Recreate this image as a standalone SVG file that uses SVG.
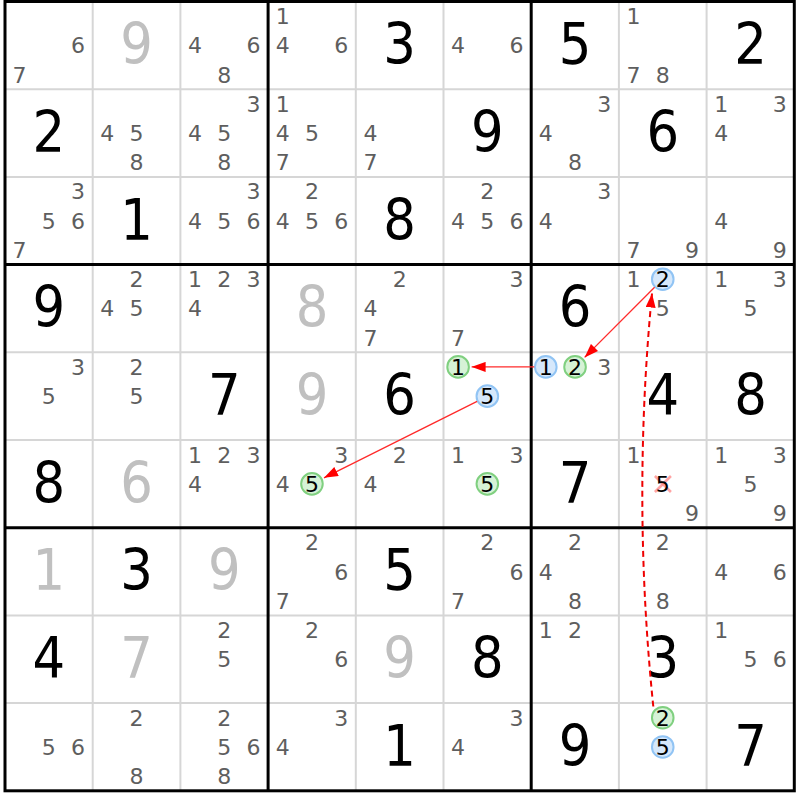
<svg xmlns="http://www.w3.org/2000/svg" width="800" height="800" viewBox="0 0 800 800">
<style>
text{font-family:"DejaVu Sans",sans-serif;text-anchor:middle}
.c{font-size:22px;fill:#5e5e5e}
.h{font-size:22px;fill:#000}
.b{font-size:57px;fill:#000;font-family:"DejaVu Sans Condensed","DejaVu Sans",sans-serif}
.g{font-size:57px;fill:#c0c0c0;font-family:"DejaVu Sans Condensed","DejaVu Sans",sans-serif}
.thin{stroke:#d6d6d6;stroke-width:2}
.thick{stroke:#000;stroke-width:3}
.blue{fill:#d6e8fb;stroke:#91c4f4;stroke-width:2}
.green{fill:#d6f2d6;stroke:#80d080;stroke-width:2}
.link{fill:none;stroke:#ff2b2b;stroke-width:1.3}
.weak{fill:none;stroke:#ee0000;stroke-width:2;stroke-dasharray:6,4}
.elim{stroke:#ff8c8c;stroke-width:2.5;stroke-opacity:0.8}
</style>
<defs>
<marker id="ah" markerUnits="userSpaceOnUse" markerWidth="14" markerHeight="10" viewBox="0 0 14 10" refX="14" refY="5" orient="auto">
<path d="M0,0 L14,5 L0,10 Z" fill="#ff0000"/>
</marker>
</defs>
<rect x="0" y="0" width="800" height="800" fill="#fff"/>
<g id="grid">
<g class="thin">
<line x1="92.7" y1="1.5" x2="92.7" y2="790.8"/>
<line x1="180.4" y1="1.5" x2="180.4" y2="790.8"/>
<line x1="355.8" y1="1.5" x2="355.8" y2="790.8"/>
<line x1="443.5" y1="1.5" x2="443.5" y2="790.8"/>
<line x1="618.9" y1="1.5" x2="618.9" y2="790.8"/>
<line x1="706.6" y1="1.5" x2="706.6" y2="790.8"/>
<line x1="5" y1="89.2" x2="794.3" y2="89.2"/>
<line x1="5" y1="176.9" x2="794.3" y2="176.9"/>
<line x1="5" y1="352.3" x2="794.3" y2="352.3"/>
<line x1="5" y1="440" x2="794.3" y2="440"/>
<line x1="5" y1="615.4" x2="794.3" y2="615.4"/>
<line x1="5" y1="703.1" x2="794.3" y2="703.1"/>
</g>
<g class="thick">
<line x1="268.1" y1="1.5" x2="268.1" y2="790.8"/>
<line x1="531.2" y1="1.5" x2="531.2" y2="790.8"/>
<line x1="5" y1="264.6" x2="794.3" y2="264.6"/>
<line x1="5" y1="527.7" x2="794.3" y2="527.7"/>
<rect x="5" y="1.5" width="789.3" height="789.3" fill="none"/>
</g>
</g>
<!-- row 1 -->
<g id="r1c1" transform="translate(5,1.5)"><text class="c" x="73.1" y="51.85">6</text><text class="c" x="14.6" y="81.1">7</text></g>
<g id="r1c2" transform="translate(92.7,1.5)"><text class="g" x="43.85" y="62.8">9</text></g>
<g id="r1c3" transform="translate(180.4,1.5)"><text class="c" x="14.6" y="51.85">4</text><text class="c" x="73.1" y="51.85">6</text><text class="c" x="43.85" y="81.1">8</text></g>
<g id="r1c4" transform="translate(268.1,1.5)"><text class="c" x="14.6" y="22.6">1</text><text class="c" x="14.6" y="51.85">4</text><text class="c" x="73.1" y="51.85">6</text></g>
<g id="r1c5" transform="translate(355.8,1.5)"><text class="b" x="43.85" y="62.8">3</text></g>
<g id="r1c6" transform="translate(443.5,1.5)"><text class="c" x="14.6" y="51.85">4</text><text class="c" x="73.1" y="51.85">6</text></g>
<g id="r1c7" transform="translate(531.2,1.5)"><text class="b" x="43.85" y="62.8">5</text></g>
<g id="r1c8" transform="translate(618.9,1.5)"><text class="c" x="14.6" y="22.6">1</text><text class="c" x="14.6" y="81.1">7</text><text class="c" x="43.85" y="81.1">8</text></g>
<g id="r1c9" transform="translate(706.6,1.5)"><text class="b" x="43.85" y="62.8">2</text></g>
<!-- row 2 -->
<g id="r2c1" transform="translate(5,89.2)"><text class="b" x="43.85" y="62.8">2</text></g>
<g id="r2c2" transform="translate(92.7,89.2)"><text class="c" x="14.6" y="51.85">4</text><text class="c" x="43.85" y="51.85">5</text><text class="c" x="43.85" y="81.1">8</text></g>
<g id="r2c3" transform="translate(180.4,89.2)"><text class="c" x="73.1" y="22.6">3</text><text class="c" x="14.6" y="51.85">4</text><text class="c" x="43.85" y="51.85">5</text><text class="c" x="43.85" y="81.1">8</text></g>
<g id="r2c4" transform="translate(268.1,89.2)"><text class="c" x="14.6" y="22.6">1</text><text class="c" x="14.6" y="51.85">4</text><text class="c" x="43.85" y="51.85">5</text><text class="c" x="14.6" y="81.1">7</text></g>
<g id="r2c5" transform="translate(355.8,89.2)"><text class="c" x="14.6" y="51.85">4</text><text class="c" x="14.6" y="81.1">7</text></g>
<g id="r2c6" transform="translate(443.5,89.2)"><text class="b" x="43.85" y="62.8">9</text></g>
<g id="r2c7" transform="translate(531.2,89.2)"><text class="c" x="73.1" y="22.6">3</text><text class="c" x="14.6" y="51.85">4</text><text class="c" x="43.85" y="81.1">8</text></g>
<g id="r2c8" transform="translate(618.9,89.2)"><text class="b" x="43.85" y="62.8">6</text></g>
<g id="r2c9" transform="translate(706.6,89.2)"><text class="c" x="14.6" y="22.6">1</text><text class="c" x="73.1" y="22.6">3</text><text class="c" x="14.6" y="51.85">4</text></g>
<!-- row 3 -->
<g id="r3c1" transform="translate(5,176.9)"><text class="c" x="73.1" y="22.6">3</text><text class="c" x="43.85" y="51.85">5</text><text class="c" x="73.1" y="51.85">6</text><text class="c" x="14.6" y="81.1">7</text></g>
<g id="r3c2" transform="translate(92.7,176.9)"><text class="b" x="43.85" y="62.8">1</text></g>
<g id="r3c3" transform="translate(180.4,176.9)"><text class="c" x="73.1" y="22.6">3</text><text class="c" x="14.6" y="51.85">4</text><text class="c" x="43.85" y="51.85">5</text><text class="c" x="73.1" y="51.85">6</text></g>
<g id="r3c4" transform="translate(268.1,176.9)"><text class="c" x="43.85" y="22.6">2</text><text class="c" x="14.6" y="51.85">4</text><text class="c" x="43.85" y="51.85">5</text><text class="c" x="73.1" y="51.85">6</text></g>
<g id="r3c5" transform="translate(355.8,176.9)"><text class="b" x="43.85" y="62.8">8</text></g>
<g id="r3c6" transform="translate(443.5,176.9)"><text class="c" x="43.85" y="22.6">2</text><text class="c" x="14.6" y="51.85">4</text><text class="c" x="43.85" y="51.85">5</text><text class="c" x="73.1" y="51.85">6</text></g>
<g id="r3c7" transform="translate(531.2,176.9)"><text class="c" x="73.1" y="22.6">3</text><text class="c" x="14.6" y="51.85">4</text></g>
<g id="r3c8" transform="translate(618.9,176.9)"><text class="c" x="14.6" y="81.1">7</text><text class="c" x="73.1" y="81.1">9</text></g>
<g id="r3c9" transform="translate(706.6,176.9)"><text class="c" x="14.6" y="51.85">4</text><text class="c" x="73.1" y="81.1">9</text></g>
<!-- row 4 -->
<g id="r4c1" transform="translate(5,264.6)"><text class="b" x="43.85" y="62.8">9</text></g>
<g id="r4c2" transform="translate(92.7,264.6)"><text class="c" x="43.85" y="22.6">2</text><text class="c" x="14.6" y="51.85">4</text><text class="c" x="43.85" y="51.85">5</text></g>
<g id="r4c3" transform="translate(180.4,264.6)"><text class="c" x="14.6" y="22.6">1</text><text class="c" x="43.85" y="22.6">2</text><text class="c" x="73.1" y="22.6">3</text><text class="c" x="14.6" y="51.85">4</text></g>
<g id="r4c4" transform="translate(268.1,264.6)"><text class="g" x="43.85" y="62.8">8</text></g>
<g id="r4c5" transform="translate(355.8,264.6)"><text class="c" x="43.85" y="22.6">2</text><text class="c" x="14.6" y="51.85">4</text><text class="c" x="14.6" y="81.1">7</text></g>
<g id="r4c6" transform="translate(443.5,264.6)"><text class="c" x="73.1" y="22.6">3</text><text class="c" x="14.6" y="81.1">7</text></g>
<g id="r4c7" transform="translate(531.2,264.6)"><text class="b" x="43.85" y="62.8">6</text></g>
<g id="r4c8" transform="translate(618.9,264.6)"><text class="c" x="14.6" y="22.6">1</text><circle class="blue" cx="43.85" cy="14.6" r="10.8"/><text class="h" x="43.85" y="22.6">2</text><text class="c" x="43.85" y="51.85">5</text></g>
<g id="r4c9" transform="translate(706.6,264.6)"><text class="c" x="14.6" y="22.6">1</text><text class="c" x="73.1" y="22.6">3</text><text class="c" x="43.85" y="51.85">5</text></g>
<!-- row 5 -->
<g id="r5c1" transform="translate(5,352.3)"><text class="c" x="73.1" y="22.6">3</text><text class="c" x="43.85" y="51.85">5</text></g>
<g id="r5c2" transform="translate(92.7,352.3)"><text class="c" x="43.85" y="22.6">2</text><text class="c" x="43.85" y="51.85">5</text></g>
<g id="r5c3" transform="translate(180.4,352.3)"><text class="b" x="43.85" y="62.8">7</text></g>
<g id="r5c4" transform="translate(268.1,352.3)"><text class="g" x="43.85" y="62.8">9</text></g>
<g id="r5c5" transform="translate(355.8,352.3)"><text class="b" x="43.85" y="62.8">6</text></g>
<g id="r5c6" transform="translate(443.5,352.3)"><circle class="green" cx="14.6" cy="14.6" r="10.8"/><text class="h" x="14.6" y="22.6">1</text><circle class="blue" cx="43.85" cy="43.85" r="10.8"/><text class="h" x="43.85" y="51.85">5</text></g>
<g id="r5c7" transform="translate(531.2,352.3)"><circle class="blue" cx="14.6" cy="14.6" r="10.8"/><text class="h" x="14.6" y="22.6">1</text><circle class="green" cx="43.85" cy="14.6" r="10.8"/><text class="h" x="43.85" y="22.6">2</text><text class="c" x="73.1" y="22.6">3</text></g>
<g id="r5c8" transform="translate(618.9,352.3)"><text class="b" x="43.85" y="62.8">4</text></g>
<g id="r5c9" transform="translate(706.6,352.3)"><text class="b" x="43.85" y="62.8">8</text></g>
<!-- row 6 -->
<g id="r6c1" transform="translate(5,440)"><text class="b" x="43.85" y="62.8">8</text></g>
<g id="r6c2" transform="translate(92.7,440)"><text class="g" x="43.85" y="62.8">6</text></g>
<g id="r6c3" transform="translate(180.4,440)"><text class="c" x="14.6" y="22.6">1</text><text class="c" x="43.85" y="22.6">2</text><text class="c" x="73.1" y="22.6">3</text><text class="c" x="14.6" y="51.85">4</text></g>
<g id="r6c4" transform="translate(268.1,440)"><text class="c" x="73.1" y="22.6">3</text><text class="c" x="14.6" y="51.85">4</text><circle class="green" cx="43.85" cy="43.85" r="10.8"/><text class="h" x="43.85" y="51.85">5</text></g>
<g id="r6c5" transform="translate(355.8,440)"><text class="c" x="43.85" y="22.6">2</text><text class="c" x="14.6" y="51.85">4</text></g>
<g id="r6c6" transform="translate(443.5,440)"><text class="c" x="14.6" y="22.6">1</text><text class="c" x="73.1" y="22.6">3</text><circle class="green" cx="43.85" cy="43.85" r="10.8"/><text class="h" x="43.85" y="51.85">5</text></g>
<g id="r6c7" transform="translate(531.2,440)"><text class="b" x="43.85" y="62.8">7</text></g>
<g id="r6c8" transform="translate(618.9,440)"><text class="c" x="14.6" y="22.6">1</text><line class="elim" x1="36" y1="36" x2="52" y2="52"/><line class="elim" x1="52" y1="36" x2="36" y2="52"/><text class="h" x="43.85" y="51.85">5</text><text class="c" x="73.1" y="81.1">9</text></g>
<g id="r6c9" transform="translate(706.6,440)"><text class="c" x="14.6" y="22.6">1</text><text class="c" x="73.1" y="22.6">3</text><text class="c" x="43.85" y="51.85">5</text><text class="c" x="73.1" y="81.1">9</text></g>
<!-- row 7 -->
<g id="r7c1" transform="translate(5,527.7)"><text class="g" x="43.85" y="62.8">1</text></g>
<g id="r7c2" transform="translate(92.7,527.7)"><text class="b" x="43.85" y="62.8">3</text></g>
<g id="r7c3" transform="translate(180.4,527.7)"><text class="g" x="43.85" y="62.8">9</text></g>
<g id="r7c4" transform="translate(268.1,527.7)"><text class="c" x="43.85" y="22.6">2</text><text class="c" x="73.1" y="51.85">6</text><text class="c" x="14.6" y="81.1">7</text></g>
<g id="r7c5" transform="translate(355.8,527.7)"><text class="b" x="43.85" y="62.8">5</text></g>
<g id="r7c6" transform="translate(443.5,527.7)"><text class="c" x="43.85" y="22.6">2</text><text class="c" x="73.1" y="51.85">6</text><text class="c" x="14.6" y="81.1">7</text></g>
<g id="r7c7" transform="translate(531.2,527.7)"><text class="c" x="43.85" y="22.6">2</text><text class="c" x="14.6" y="51.85">4</text><text class="c" x="43.85" y="81.1">8</text></g>
<g id="r7c8" transform="translate(618.9,527.7)"><text class="c" x="43.85" y="22.6">2</text><text class="c" x="43.85" y="81.1">8</text></g>
<g id="r7c9" transform="translate(706.6,527.7)"><text class="c" x="14.6" y="51.85">4</text><text class="c" x="73.1" y="51.85">6</text></g>
<!-- row 8 -->
<g id="r8c1" transform="translate(5,615.4)"><text class="b" x="43.85" y="62.8">4</text></g>
<g id="r8c2" transform="translate(92.7,615.4)"><text class="g" x="43.85" y="62.8">7</text></g>
<g id="r8c3" transform="translate(180.4,615.4)"><text class="c" x="43.85" y="22.6">2</text><text class="c" x="43.85" y="51.85">5</text></g>
<g id="r8c4" transform="translate(268.1,615.4)"><text class="c" x="43.85" y="22.6">2</text><text class="c" x="73.1" y="51.85">6</text></g>
<g id="r8c5" transform="translate(355.8,615.4)"><text class="g" x="43.85" y="62.8">9</text></g>
<g id="r8c6" transform="translate(443.5,615.4)"><text class="b" x="43.85" y="62.8">8</text></g>
<g id="r8c7" transform="translate(531.2,615.4)"><text class="c" x="14.6" y="22.6">1</text><text class="c" x="43.85" y="22.6">2</text></g>
<g id="r8c8" transform="translate(618.9,615.4)"><text class="b" x="43.85" y="62.8">3</text></g>
<g id="r8c9" transform="translate(706.6,615.4)"><text class="c" x="14.6" y="22.6">1</text><text class="c" x="43.85" y="51.85">5</text><text class="c" x="73.1" y="51.85">6</text></g>
<!-- row 9 -->
<g id="r9c1" transform="translate(5,703.1)"><text class="c" x="43.85" y="51.85">5</text><text class="c" x="73.1" y="51.85">6</text></g>
<g id="r9c2" transform="translate(92.7,703.1)"><text class="c" x="43.85" y="22.6">2</text><text class="c" x="43.85" y="81.1">8</text></g>
<g id="r9c3" transform="translate(180.4,703.1)"><text class="c" x="43.85" y="22.6">2</text><text class="c" x="43.85" y="51.85">5</text><text class="c" x="73.1" y="51.85">6</text><text class="c" x="43.85" y="81.1">8</text></g>
<g id="r9c4" transform="translate(268.1,703.1)"><text class="c" x="73.1" y="22.6">3</text><text class="c" x="14.6" y="51.85">4</text></g>
<g id="r9c5" transform="translate(355.8,703.1)"><text class="b" x="43.85" y="62.8">1</text></g>
<g id="r9c6" transform="translate(443.5,703.1)"><text class="c" x="73.1" y="22.6">3</text><text class="c" x="14.6" y="51.85">4</text></g>
<g id="r9c7" transform="translate(531.2,703.1)"><text class="b" x="43.85" y="62.8">9</text></g>
<g id="r9c8" transform="translate(618.9,703.1)"><circle class="green" cx="43.85" cy="14.6" r="10.8"/><text class="h" x="43.85" y="22.6">2</text><circle class="blue" cx="43.85" cy="43.85" r="10.8"/><text class="h" x="43.85" y="51.85">5</text></g>
<g id="r9c9" transform="translate(706.6,703.1)"><text class="b" x="43.85" y="62.8">7</text></g>
<g id="connectors">
<line class="link" x1="534.3" y1="366.9" x2="471.6" y2="366.9" marker-end="url(#ah)"/>
<line class="link" x1="654.6" y1="287.3" x2="584.6" y2="357.4" marker-end="url(#ah)"/>
<line class="link" x1="477.1" y1="401.3" x2="324.0" y2="477.8" marker-end="url(#ah)"/>
<path class="weak" d="M653.3,706.5 Q632,500 652,293.5" marker-end="url(#ah)"/>
</g>
</svg>
